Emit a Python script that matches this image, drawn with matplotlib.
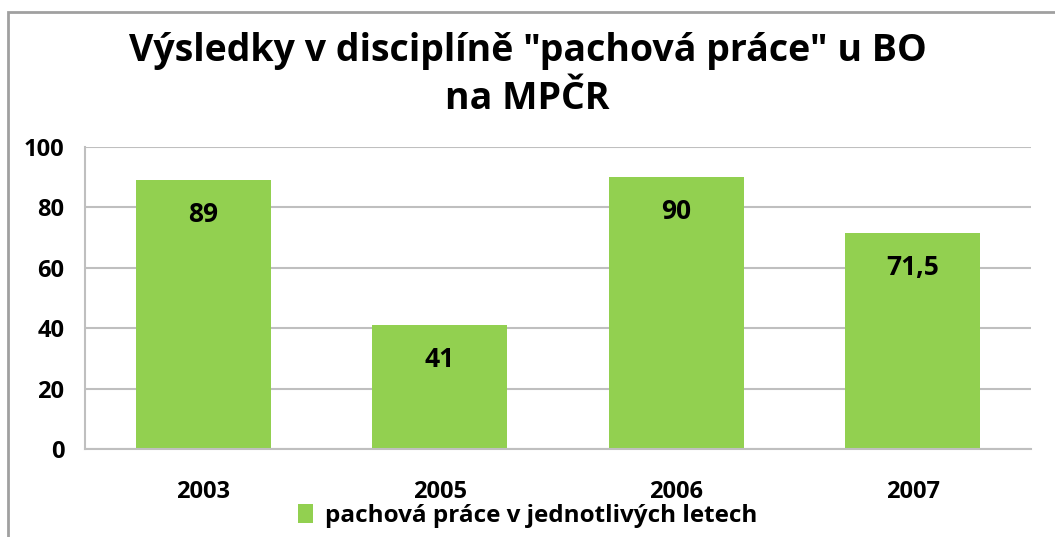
import matplotlib.pyplot as plt
from matplotlib.patches import Rectangle

years = ['2003', '2005', '2006', '2007']
values = [89, 41, 90, 71.5]
value_labels = ['89', '41', '90', '71,5']
series_name = 'pachová práce v jednotlivých letech'
title = 'Výsledky v disciplíně "pachová práce" u BO\nna MPČR'

green = '#92D050'
grid_gray = '#BFBFBF'

plt.rcParams['font.family'] = ['Open Sans', 'DejaVu Sans']
plt.rcParams['font.weight'] = 'bold'

fig = plt.figure(figsize=(10.55, 5.37), dpi=100)
ax = fig.add_axes([85 / 1055, 1 - 449 / 537, (1031 - 85) / 1055, (449 - 147) / 537])

x = range(len(years))
bars = ax.bar(x, values, width=0.57, color=green, label=series_name, zorder=2)

for i, v in enumerate(values):
    ax.text(i, v - 11.5, value_labels[i], ha='center', va='center',
            fontsize=19, fontweight='bold', color='black', zorder=3)

ax.set_xlim(-0.5, len(years) - 0.5)
ax.set_ylim(0, 100)
ax.set_yticks([0, 20, 40, 60, 80, 100])
ax.set_xticks(list(x))
ax.set_xticklabels(years)
ax.yaxis.grid(True, color=grid_gray, linewidth=1.5, zorder=0)
ax.set_axisbelow(True)
for side in ['top', 'right']:
    ax.spines[side].set_visible(False)
for side in ['left', 'bottom']:
    ax.spines[side].set_color(grid_gray)
    ax.spines[side].set_linewidth(1.5)
ax.tick_params(axis='y', length=0, labelsize=17, pad=15)
ax.tick_params(axis='x', length=0, labelsize=17, pad=22)
for lab in ax.get_xticklabels() + ax.get_yticklabels():
    lab.set_fontweight('bold')

fig.text(0.5, 1 - 75 / 537, title, ha='center', va='center', fontsize=27,
         fontweight='bold', linespacing=1.35)

fig.legend(handles=[bars], labels=[series_name], loc='center',
           bbox_to_anchor=(0.5, 1 - 516 / 537), frameon=False,
           handlelength=0.6, handleheight=0.8, handletextpad=0.5,
           prop={'weight': 'bold', 'size': 17.5})

# chart frame
fig.patches.append(Rectangle((8 / 1055, -0.1), 1.2, 1 - 12 / 537 + 0.1,
                             transform=fig.transFigure, fill=False,
                             edgecolor='#A0A0A0', linewidth=2))

fig.savefig('out.png', dpi=100)
